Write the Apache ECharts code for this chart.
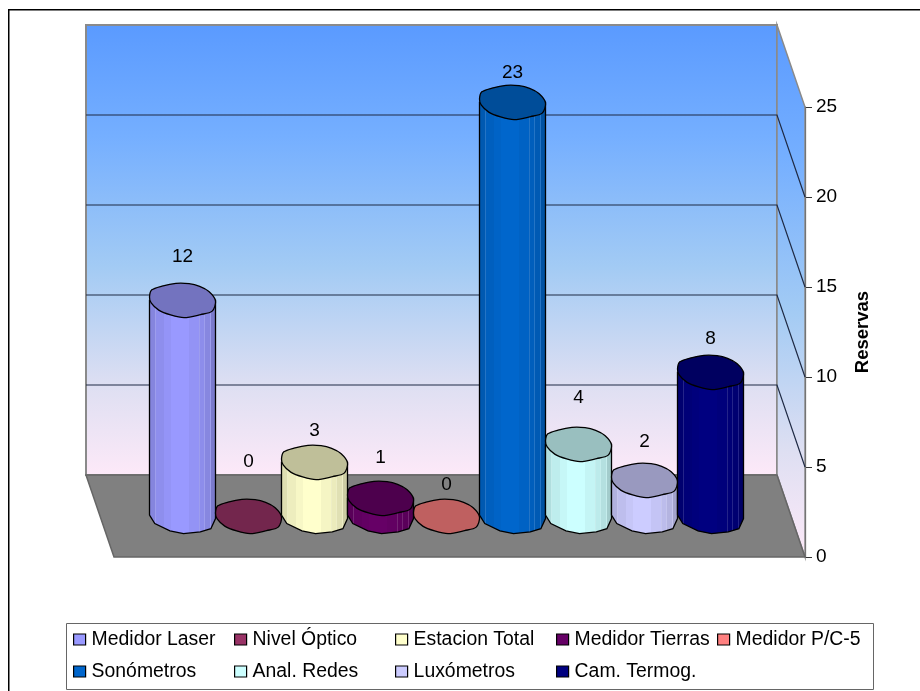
<!DOCTYPE html>
<html>
<head>
<meta charset="utf-8">
<style>html,body{margin:0;padding:0;background:#fff}#c{width:920px;height:691px}</style>
<script src="https://cdn.jsdelivr.net/npm/echarts@6/dist/echarts.min.js"></script>
</head>
<body>
<div id="c"></div>
<script>
const categories = ['Medidor Laser','Nivel Óptico','Estacion Total','Medidor Tierras','Medidor P/C-5','Sonómetros','Anal. Redes','Luxómetros','Cam. Termog.'];
const reservas = [12,0,3,1,0,23,4,2,8];
const colors = ['#9999FF','#993366','#FFFFCC','#660066','#FF8080','#0066CC','#CCFFFF','#CCCCFF','#000080'];
const yTicks = {min:0,max:25,interval:5};
const legendColumns = [[0,5],[1,6],[2,7],[3,8],[4]];

const FONT = '"Liberation Sans", Arial, sans-serif';
const labelLift = [44,55,32,41,32,30,47,39,34];
const legendX = [73,234,395,556,717];
const DX = -28, DY = -82;

const outline = [[-1,-.2],[-.93,-.62],[-.62,-.84],[-.2,-1],[.2,-.98],[.52,-.82],[.8,-.52],[1,.02],[.9,.62],[.55,.82],[.05,1],[-.36,.84],[-.72,.56],[-.95,.14]];
const lower = [[-1,-.08],[-.84,.41],[-.38,.84],[.03,1],[.54,.9],[.86,.71],[1,.12]];
const facets = [[0,.1,.87],[.1,.23,.93],[.23,.33,.97],[.33,.46,1],[.46,.59,1],[.59,.75,.96],[.75,.83,.92],[.83,.92,.88],[.92,1,.8]];
const ribs = [.1,.33,.75,.83,.92];
const RIB = .005;

function rgb(h){return [1,3,5].map(i=>parseInt(h.substr(i,2),16));}
function css(a){return 'rgb('+a.map(v=>Math.round(Math.max(0,Math.min(255,v)))).join(',')+')';}
function shade(h,f){return css(rgb(h).map(v=>v*f));}
function bodyGradient(h){
  const rib=css(rgb(h).map(v=>v*.92+(255-v*.92)*.14));
  const stops=[];
  facets.forEach(f=>{
    const c=shade(h,f[2]);
    const endRib=ribs.includes(f[1]);
    stops.push({offset:f[0]+(ribs.includes(f[0])?RIB:0),color:c});
    stops.push({offset:f[1]-(endRib?RIB:0),color:c});
    if(endRib){stops.push({offset:f[1]-RIB,color:rib},{offset:f[1]+RIB,color:rib});}
  });
  return {type:'linear',x:0,y:0,x2:1,y2:0,colorStops:stops};
}

function cylinder(i){
  return function(params,api){
    const val=api.value(1);
    const top=api.coord([api.value(0),val]);
    const base=api.coord([api.value(0),0]);
    const hw=api.size([1,0])[0]/2, ry=hw*.52;
    const kids=[];
    const lineStyle={stroke:'#000',lineWidth:1.3};
    if(val>0){
      const pts=[[top[0]-hw,top[1]]];
      lower.forEach(p=>pts.push([base[0]+p[0]*hw,base[1]+p[1]*ry]));
      pts.push([top[0]+hw,top[1]]);
      kids.push({type:'polygon',shape:{points:pts},style:Object.assign({fill:bodyGradient(colors[i])},lineStyle)});
    }
    kids.push({type:'polygon',shape:{points:outline.map(p=>[top[0]+p[0]*hw,top[1]+p[1]*ry]),smooth:.3},
      style:Object.assign({fill:shade(colors[i],.75)},lineStyle)});
    kids.push({type:'text',style:{text:String(val),x:top[0],y:top[1]-labelLift[i]+.5,align:'center',verticalAlign:'middle',fontFamily:FONT,fontSize:19,fill:'#000'}});
    return {type:'group',children:kids};
  };
}

function walls(params,api){
  const wallFill={type:'linear',x:0,y:0,x2:0,y2:1,colorStops:[
    {offset:0,color:'#5A9AFF'},{offset:.25,color:'#75AFFF'},{offset:.54,color:'#A3CBF4'},{offset:.8,color:'#DEDFF2'},{offset:1,color:'#FDE9F8'}]};
  const p=(x,v,back)=>{const c=api.coord([x,v]);return back?[c[0]+DX,c[1]+DY]:c;};
  const kids=[];
  kids.push({type:'polygon',shape:{points:[p(0,25,1),p(1,25,1),p(1,0,1),p(0,0,1)]},style:{fill:wallFill,stroke:'#8a8a8a',lineWidth:2}});
  kids.push({type:'polygon',shape:{points:[p(1,25,1),p(1,25,0),p(1,0,0),p(1,0,1)]},style:{fill:wallFill,stroke:'#8a8a8a',lineWidth:1.5}});
  kids.push({type:'polygon',shape:{points:[p(0,0,0),p(1,0,0),p(1,0,1),p(0,0,1)]},style:{fill:'#808080',stroke:'#666',lineWidth:1.5}});
  for(let v=yTicks.interval;v<yTicks.max;v+=yTicks.interval){
    kids.push({type:'polyline',shape:{points:[p(0,v,1),p(1,v,1),p(1,v,0)]},style:{fill:'none',stroke:'#1f2a44',lineWidth:1.2}});
  }
  return {type:'group',children:kids};
}

const series=[{type:'custom',name:'walls',xAxisIndex:1,yAxisIndex:1,silent:true,z:1,data:[[0,0]],renderItem:walls,encode:{x:0,y:1}}];
categories.forEach((name,i)=>{
  series.push({type:'custom',name:name,xAxisIndex:0,yAxisIndex:0,z:2+i,silent:true,
    itemStyle:{color:colors[i]},
    data:[[i,reservas[i]]],encode:{x:0,y:1},renderItem:cylinder(i)});
});

const chart=echarts.init(document.getElementById('c'),null,{renderer:'canvas'});
chart.setOption({
  animation:false,
  backgroundColor:'#fff',
  textStyle:{fontFamily:FONT},
  grid:[
    {left:149.5,top:66.5,width:594,height:450},
    {left:114,top:107,width:691,height:450}
  ],
  xAxis:[
    {type:'category',gridIndex:0,data:categories,show:false},
    {type:'value',gridIndex:1,min:0,max:1,show:false}
  ],
  yAxis:[
    {type:'value',gridIndex:0,min:yTicks.min,max:yTicks.max,interval:yTicks.interval,show:false},
    {type:'value',gridIndex:1,min:yTicks.min,max:yTicks.max,interval:yTicks.interval,position:'right',
      name:'Reservas',nameLocation:'middle',nameGap:48,nameRotate:90,
      nameTextStyle:{fontFamily:FONT,fontSize:18.5,fontWeight:'bold',color:'#000'},
      axisLine:{show:true,onZero:false,lineStyle:{color:'#333',width:1.2}},
      axisTick:{show:true,length:7,lineStyle:{color:'#333',width:1}},
      axisLabel:{color:'#000',fontFamily:FONT,fontSize:19,margin:11,padding:[4,0,0,0]},
      splitLine:{show:false}}
  ],
  legend:legendColumns.map((col,k)=>({
    orient:'vertical',left:legendX[k],top:630,padding:0,itemGap:13,itemWidth:12,itemHeight:11,
    selectedMode:false,icon:'rect',
    itemStyle:{borderColor:'#000',borderWidth:1.2},
    textStyle:{fontFamily:FONT,fontSize:19.4,color:'#000',padding:[0,0,0,1]},
    data:col.map(i=>categories[i])
  })),
  graphic:[
    {type:'rect',silent:true,z:-1,shape:{x:66.5,y:623.5,width:807,height:66},style:{fill:'#fff',stroke:'#666',lineWidth:1}},
    {type:'polyline',silent:true,shape:{points:[[8.75,691],[8.75,9.75],[920,9.75]]},style:{fill:'none',stroke:'#000',lineWidth:1.5}}
  ],
  series:series
});
</script>
</body>
</html>
